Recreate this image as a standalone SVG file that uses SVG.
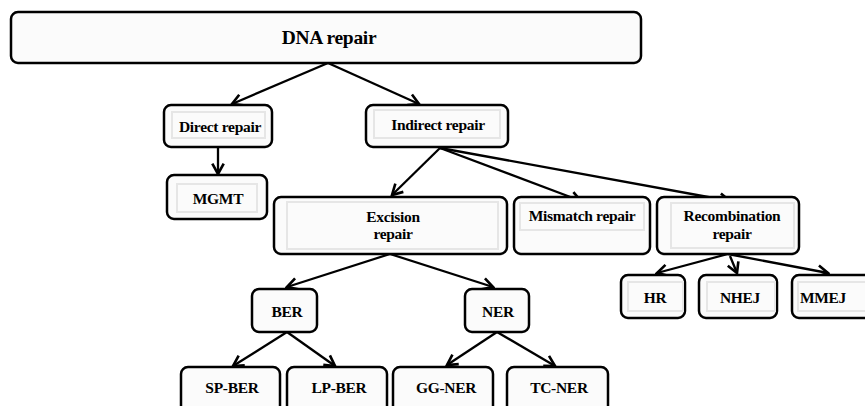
<svg xmlns="http://www.w3.org/2000/svg" width="865" height="406" viewBox="0 0 865 406">
<style>
.box{fill:#fbfbfb;stroke:#000;stroke-width:2.5}
.inner{fill:none;stroke:#e6e6e6;stroke-width:2}
.t{font-family:"Liberation Serif","Times New Roman",serif;font-weight:bold;font-size:15.5px;letter-spacing:-0.3px;text-anchor:middle;fill:#000}
.big{font-size:19.5px}
.c{stroke:#000;stroke-width:2.3;fill:none;marker-end:url(#ah)}
</style>
<defs>
<marker id="ah" markerUnits="userSpaceOnUse" markerWidth="16" markerHeight="16" viewBox="-12 -7 14 14" refX="0" refY="0" orient="auto">
<path d="M-9,-5 L0,0 L-9,5" fill="none" stroke="#000" stroke-width="2.3"/>
</marker>
</defs>
<rect width="865" height="406" fill="#fff"/>
<g id="connectors">
<line class="c" x1="328" y1="63" x2="232" y2="104"/>
<line class="c" x1="328" y1="63" x2="419" y2="104"/>
<line class="c" x1="218" y1="147" x2="218" y2="174"/>
<line class="c" x1="440" y1="148" x2="392" y2="195"/>
<line class="c" x1="440" y1="148" x2="581" y2="201"/>
<line class="c" x1="440" y1="148" x2="730" y2="201"/>
<line class="c" x1="390" y1="254" x2="287" y2="287"/>
<line class="c" x1="390" y1="254" x2="493" y2="287"/>
<line class="c" x1="287" y1="332" x2="233" y2="366"/>
<line class="c" x1="287" y1="332" x2="335" y2="366"/>
<line class="c" x1="497" y1="332" x2="447" y2="365"/>
<line class="c" x1="497" y1="332" x2="555" y2="366"/>
<line class="c" x1="728" y1="254" x2="657" y2="273"/>
<line class="c" x1="730" y1="256" x2="737" y2="273"/>
<line class="c" x1="728" y1="254" x2="828" y2="273"/>
</g>
<g id="dna"><rect class="box" x="11" y="12" width="630" height="51" rx="7"/><text class="t big" x="329" y="44">DNA repair</text></g>
<g id="direct"><rect class="box" x="164" y="105" width="108" height="42" rx="7"/><rect class="inner" x="172" y="112" width="93" height="26"/><text class="t" x="220" y="132">Direct repair</text></g>
<g id="indirect"><rect class="box" x="366" y="105" width="142" height="42" rx="7"/><rect class="inner" x="374" y="110" width="126" height="28"/><text class="t" x="438" y="130">Indirect repair</text></g>
<g id="mgmt"><rect class="box" x="167" y="175" width="100" height="44" rx="7"/><rect class="inner" x="177" y="184" width="80" height="28"/><text class="t" x="218" y="204">MGMT</text></g>
<g id="excision"><rect class="box" x="274" y="197" width="233" height="57" rx="7"/><rect class="inner" x="287" y="202" width="211" height="47"/><text class="t" x="393" y="222">Excision</text><text class="t" x="393" y="239">repair</text></g>
<g id="mismatch"><rect class="box" x="514" y="197" width="136" height="57" rx="7"/><rect class="inner" x="520" y="203" width="124" height="27"/><text class="t" x="582" y="221">Mismatch repair</text></g>
<g id="recombination"><rect class="box" x="657" y="197" width="142" height="57" rx="7"/><rect class="inner" x="671" y="203" width="123" height="45"/><text class="t" x="732" y="221">Recombination</text><text class="t" x="732" y="239">repair</text></g>
<g id="ber"><rect class="box" x="252" y="289" width="65" height="43" rx="7"/><text class="t" x="287" y="317">BER</text></g>
<g id="ner"><rect class="box" x="465" y="289" width="64" height="43" rx="7"/><text class="t" x="498" y="317">NER</text></g>
<g id="spber"><rect class="box" x="181" y="367" width="99" height="60" rx="7"/><text class="t" x="232" y="393">SP-BER</text></g>
<g id="lpber"><rect class="box" x="287" y="367" width="100" height="60" rx="7"/><text class="t" x="339" y="393">LP-BER</text></g>
<g id="ggner"><rect class="box" x="393" y="367" width="100" height="60" rx="7"/><text class="t" x="446" y="393">GG-NER</text></g>
<g id="tcner"><rect class="box" x="507" y="367" width="101" height="60" rx="7"/><text class="t" x="559" y="393">TC-NER</text></g>
<g id="hr"><rect class="box" x="621" y="275" width="64" height="43" rx="7"/><rect class="inner" x="628" y="282" width="55" height="29"/><text class="t" x="655" y="303">HR</text></g>
<g id="nhej"><rect class="box" x="699" y="275" width="78" height="43" rx="7"/><rect class="inner" x="707" y="282" width="68" height="29"/><text class="t" x="740" y="303">NHEJ</text></g>
<g id="mmej"><rect class="box" x="792" y="275" width="80" height="43" rx="7"/><rect class="inner" x="798" y="282" width="70" height="29"/><text class="t" x="823" y="303">MMEJ</text></g>
</svg>
